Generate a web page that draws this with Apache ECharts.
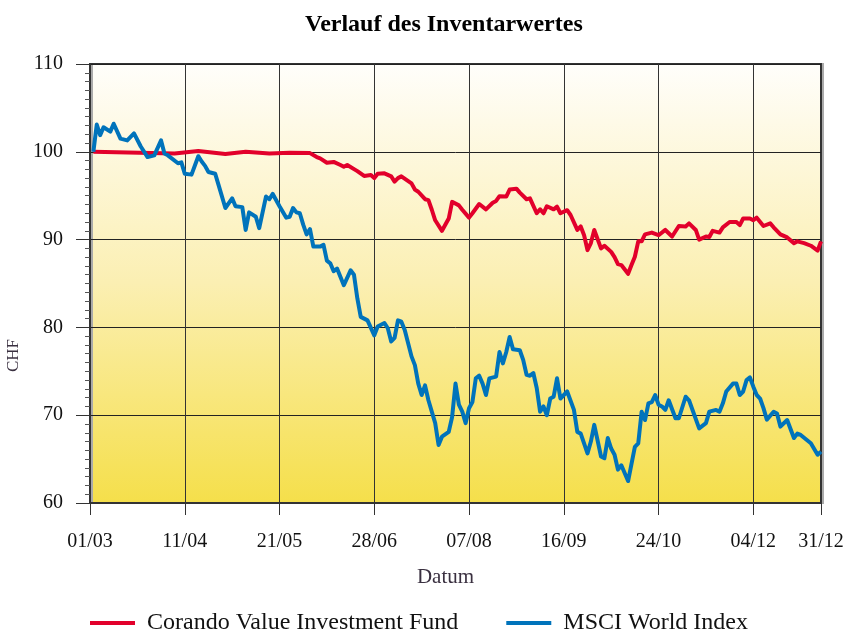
<!DOCTYPE html>
<html>
<head>
<meta charset="utf-8">
<script src="https://cdn.jsdelivr.net/npm/echarts@6/dist/echarts.min.js"></script>
<style>html,body{margin:0;padding:0;background:#fff}#c{width:845px;height:633px}</style>
</head>
<body>
<div id="c"></div>
<script>
// x = trading-day index from 01/03
const tickDays = [0, 28, 56, 84, 112, 140, 168, 196, 216];
const tickLabels = ['01/03', '11/04', '21/05', '28/06', '07/08', '16/09', '24/10', '04/12', '31/12'];
const yTicks = [60, 70, 80, 90, 100, 110];

const fundName = 'Corando Value Investment Fund';
const fundDays = [1,18,25,32,40,46,53,59,65,67,68,70,72,74,75,76,79,81,83,84,85,87,89,90,91,92,95,96,97,99,100,101,102,104,106,107,109,110,112,113,115,117,119,120,121,123,124,126,127,129,130,132,133,134,135,137,138,139,141,142,144,145,146,147,148,149,151,152,154,155,156,157,159,160,161,162,163,164,166,168,170,172,174,176,177,179,180,182,183,184,186,187,189,191,192,193,195,196,197,199,201,202,204,206,208,209,211,213,215,216];
const fundValues = [100,99.85,99.8,100.1,99.75,100,99.8,99.9,99.85,99.4,99.25,98.75,98.85,98.5,98.3,98.5,97.8,97.25,97.35,97.0,97.5,97.55,97.2,96.6,97.0,97.2,96.4,95.7,95.45,94.6,94.5,93.4,92.2,91.0,92.4,94.3,93.9,93.4,92.5,93.0,94.05,93.45,94.2,94.4,94.95,94.9,95.7,95.8,95.35,94.6,94.7,93.0,93.45,93.0,93.8,93.45,93.75,93.0,93.35,92.8,91.1,91.5,90.5,88.8,89.6,91.1,89.0,89.3,88.6,88.0,87.2,87.1,86.1,87.1,88.05,89.8,89.8,90.6,90.8,90.5,91.1,90.35,91.55,91.5,91.85,91.1,90.0,90.35,90.3,91.0,90.8,91.4,92.0,92.0,91.65,92.4,92.4,92.2,92.5,91.55,91.85,91.4,90.6,90.25,89.6,89.8,89.6,89.3,88.75,89.8];

const msciName = 'MSCI World Index';
const msciDays = [1,2,3,4,6,7,9,11,13,15,17,19,21,22,23,26,27,28,30,32,33,34,35,37,38,40,42,43,45,46,47,49,50,52,53,54,56,58,59,60,61,62,63,64,65,66,68,69,70,71,72,73,75,77,78,79,80,82,84,85,87,88,89,90,91,92,93,95,96,97,98,99,100,102,103,104,106,107,108,109,110,111,112,113,114,115,116,117,118,120,121,122,123,124,125,127,128,129,130,131,132,133,134,135,136,137,138,139,141,143,144,145,147,148,149,151,152,153,154,155,156,157,159,161,162,163,164,165,166,167,168,169,170,171,173,174,176,177,180,182,183,185,186,187,188,190,191,192,193,194,195,196,197,198,199,200,202,203,204,206,208,209,210,213,215,216];
const msciValues = [100,103.1,101.9,102.8,102.3,103.2,101.5,101.3,102.1,100.6,99.4,99.6,101.3,99.8,99.6,98.7,98.8,97.5,97.4,99.5,98.9,98.4,97.7,97.5,96.2,93.6,94.7,93.8,93.7,91.1,93.1,92.6,91.3,94.9,94.6,95.2,93.8,92.5,92.6,93.6,93.1,93.0,91.7,90.6,91.2,89.2,89.2,89.4,87.6,87.3,86.4,86.7,84.8,86.5,86.0,83.3,81.2,80.8,79.1,80.1,80.5,79.9,78.4,78.8,80.8,80.65,79.7,76.7,75.7,73.6,72.3,73.4,71.7,69.1,66.6,67.55,68.1,69.8,73.6,71.2,70.4,69.1,70.8,71.5,74.2,74.5,73.6,72.3,74.2,74.4,77.2,75.9,77.2,78.9,77.5,77.4,76.3,74.6,74.5,74.8,73.1,70.4,71.0,70.0,71.9,72.1,74.2,71.9,72.7,70.6,68.1,67.9,65.65,67.0,68.9,65.3,65.1,67.4,66.2,65.5,63.8,64.3,62.5,66.4,66.8,70.4,69.45,71.35,71.5,72.3,71.2,71.0,70.6,71.7,69.65,69.65,72.1,71.7,68.5,69.1,70.4,70.6,70.4,71.35,72.7,73.6,73.6,72.3,72.7,74.0,74.3,73.25,72.3,71.9,70.8,69.5,70.4,70.2,68.7,69.45,67.4,67.9,67.75,66.8,65.5,65.85];

const pairs = (xs, ys) => xs.map((x, i) => [x, ys[i]]);
const FONT = 'Liberation Serif';

const chart = echarts.init(document.getElementById('c'), null, { renderer: 'canvas' });
chart.setOption({
  animation: false,
  backgroundColor: '#ffffff',
  title: {
    text: 'Verlauf des Inventarwertes',
    left: 300, top: 8,
    textStyle: { fontFamily: FONT, fontSize: 24, fontWeight: 'bold', color: '#000' }
  },
  legend: {
    left: 85, top: 606,
    itemWidth: 45, itemHeight: 4, itemGap: 48,
    icon: 'rect',
    textStyle: { fontFamily: FONT, fontSize: 24, color: '#111', padding: [0, 0, 0, 7] },
    data: [fundName, msciName]
  },
  grid: {
    left: 90, right: 24, top: 64, bottom: 130,
    outerBoundsMode: 'none',
    show: true,
    borderColor: '#333', borderWidth: 2,
    backgroundColor: new echarts.graphic.LinearGradient(0, 0, 0, 1, [
      { offset: 0, color: '#fffefb' },
      { offset: 0.5, color: '#fbefb2' },
      { offset: 1, color: '#f5df4a' }
    ]),
    shadowColor: '#aaa', shadowOffsetX: 2, shadowBlur: 0
  },
  xAxis: {
    type: 'value',
    min: tickDays[0], max: tickDays[tickDays.length - 1], interval: 28,
    name: 'Datum', nameLocation: 'middle', nameGap: 64,
    nameTextStyle: { fontFamily: FONT, fontSize: 21, color: '#3a3040', padding: [0, 20, 0, 0] },
    axisLine: { show: true, onZero: false, lineStyle: { color: '#333', width: 2 } },
    axisTick: { show: true, length: 12, lineStyle: { color: '#333', width: 1 } },
    axisLabel: {
      margin: 29,
      fontFamily: FONT, fontSize: 20, color: '#111',
      formatter: v => { const k = tickDays.indexOf(v); return k >= 0 ? tickLabels[k] : ''; }
    },
    splitLine: { show: true, lineStyle: { color: '#333', width: 1 } }
  },
  yAxis: {
    type: 'value',
    min: yTicks[0], max: yTicks[yTicks.length - 1], interval: 10,
    name: 'CHF', nameLocation: 'middle', nameGap: 60, nameRotate: 90,
    nameTextStyle: { fontFamily: FONT, fontSize: 17, color: '#3a3040', padding: [0, 144, 0, 0] },
    axisLine: { show: true, lineStyle: { color: '#333', width: 2 } },
    axisTick: { show: true, length: 14, lineStyle: { color: '#333', width: 1 } },
    minorTick: { show: true, splitNumber: 10, length: 5, lineStyle: { color: '#555', width: 1 } },
    axisLabel: { margin: 27, fontFamily: FONT, fontSize: 20, color: '#111' },
    splitLine: { show: true, lineStyle: { color: '#222', width: 1 } }
  },
  series: [
    {
      name: fundName, type: 'line', data: pairs(fundDays, fundValues),
      showSymbol: false, symbol: 'none',
      itemStyle: { color: '#e2002b' },
      lineStyle: { color: '#e2002b', width: 4, join: 'round' }
    },
    {
      name: msciName, type: 'line', data: pairs(msciDays, msciValues),
      showSymbol: false, symbol: 'none',
      itemStyle: { color: '#0073bb' },
      lineStyle: { color: '#0073bb', width: 4, join: 'round' }
    }
  ]
});
</script>
</body>
</html>
